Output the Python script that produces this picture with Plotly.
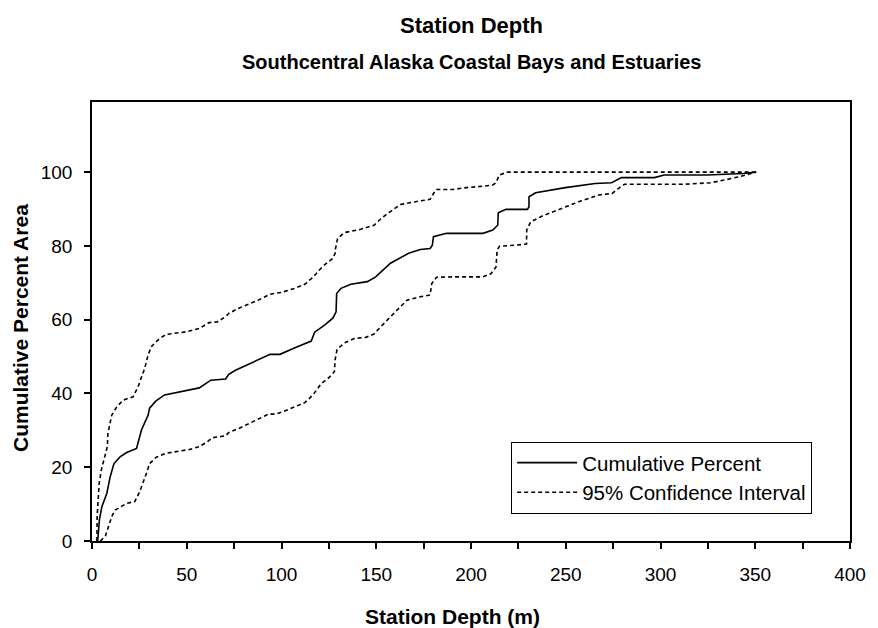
import plotly.graph_objects as go

# Cumulative distribution of station depth (m) vs. cumulative percent area
cum_depth = [3.0, 3.9, 5.2, 7.8, 9.6, 11.6, 14.8, 18.3, 23.5, 26.1, 29.6, 30.4, 33.6, 38.3,
             56.6, 59.2, 62.7, 70.5, 72.2, 75.7, 86.2, 94.0, 99.2, 103.6, 107.1, 115.7,
             117.5, 122.7, 127.1, 128.8, 129.1, 131.4, 136.6, 145.3, 149.7, 157.5, 167.1,
             173.2, 178.4, 179.6, 180.2, 187.1, 197.5, 206.3, 211.5, 214.1, 214.4, 218.4,
             229.8, 230.6, 230.6, 234.1, 249.8, 265.5, 274.2, 279.4, 296.8, 302.0, 324.6,
             343.8, 350.5]
cum_pct = [0.0, 5.7, 9.3, 12.9, 17.4, 21.0, 22.8, 24.0, 25.1, 30.1, 34.1, 36.0, 37.9, 39.6,
           41.5, 42.3, 43.6, 43.9, 45.2, 46.3, 48.8, 50.6, 50.6, 51.5, 52.4, 54.2,
           56.6, 58.5, 60.4, 62.1, 67.1, 68.5, 69.6, 70.3, 71.6, 75.3, 78.0,
           79.0, 79.3, 80.2, 82.5, 83.4, 83.4, 83.4, 84.3, 85.6, 89.0, 89.9,
           89.9, 90.6, 93.3, 94.4, 95.8, 96.9, 97.1, 98.5, 98.5, 99.2, 99.2,
           99.6, 100.0]

# Upper 95% confidence bound
upper_depth = [2.6, 2.7, 3.8, 4.9, 8.1, 8.4, 10.4, 13.1, 16.5, 21.7, 24.3, 27.8, 29.6, 31.3,
               35.7, 39.2, 49.6, 56.6, 61.8, 66.1, 70.5, 72.2, 77.4, 82.6, 87.8, 94.0, 100.0,
               107.1, 112.3, 116.6, 121.8, 127.1, 128.3, 128.4, 129.6, 133.2, 141.8, 148.8,
               153.2, 156.7, 162.7, 173.2, 178.4, 180.2, 181.8, 190.6, 197.5, 207.1, 211.5,
               213.2, 214.9, 219.3, 350.5]
upper_pct = [0.0, 6.6, 15.6, 19.2, 25.6, 29.2, 34.1, 36.4, 38.2, 39.1, 41.8, 46.8, 50.4, 52.7,
             54.9, 56.0, 56.7, 57.6, 59.2, 59.4, 60.8, 61.7, 63.1, 64.2, 65.3, 66.9, 67.4,
             68.5, 69.6, 71.5, 74.5, 76.6, 78.0, 79.0, 82.0, 83.6, 84.5, 85.6,
             87.7, 89.0, 91.2, 92.2, 92.6, 94.2, 95.3, 95.3, 95.8, 96.2, 96.5,
             97.1, 99.2, 100.0, 100.0]

# Lower 95% confidence bound
lower_depth = [4.3, 7.0, 8.7, 10.4, 12.2, 16.5, 18.3, 22.6, 25.2, 28.7, 30.4, 33.9, 39.2, 51.4,
               56.6, 60.9, 63.5, 70.5, 72.2, 77.4, 86.2, 93.2, 96.7, 100.0, 107.1, 112.3,
               116.6, 121.0, 125.3, 127.9, 128.3, 129.3, 133.2, 138.4, 144.5, 148.8, 153.2,
               158.4, 162.7, 166.2, 173.2, 178.4, 179.3, 181.8, 190.6, 206.3, 210.6, 213.2,
               213.8, 215.0, 223.8, 229.3, 229.4, 231.5, 237.6, 250.1, 257.1, 267.5, 274.5,
               279.4, 281.1, 312.4, 326.4, 335.0, 341.2, 350.5]
lower_pct = [0.0, 1.2, 3.9, 6.6, 8.4, 9.8, 10.2, 10.7, 13.4, 18.3, 21.0, 22.7, 23.8, 24.8,
             25.6, 26.9, 28.0, 28.5, 29.4, 30.5, 32.8, 34.4, 34.4, 34.9, 36.4, 37.5,
             39.6, 42.7, 44.4, 45.9, 49.1, 51.9, 53.7, 54.9, 55.2, 56.1, 58.5,
             61.2, 63.5, 65.3, 66.2, 66.7, 69.8, 71.5, 71.6, 71.6, 72.5, 74.3,
             78.9, 79.9, 80.2, 80.5, 84.3, 86.5, 88.1, 90.6, 92.0, 93.8, 94.2,
             96.2, 96.7, 96.7, 97.1, 98.0, 98.7, 100.0]

x_ticks = [0, 50, 100, 150, 200, 250, 300, 350, 400]
y_ticks = [0, 20, 40, 60, 80, 100]

FONT = "Liberation Sans, Arial, sans-serif"
DASH = "4px,3px"
PLOT_W = 878 - 92 - 21
PLOT_H = 628 - 102 - 87

fig = go.Figure()
fig.add_trace(go.Scatter(x=cum_depth, y=cum_pct, mode="lines", name="Cumulative Percent",
                         line=dict(color="black", width=1.6)))
fig.add_trace(go.Scatter(x=upper_depth, y=upper_pct, mode="lines", name="95% Confidence Interval",
                         line=dict(color="black", width=1.6, dash=DASH)))
fig.add_trace(go.Scatter(x=lower_depth, y=lower_pct, mode="lines", name="95% Confidence Interval",
                         showlegend=False, line=dict(color="black", width=1.6, dash=DASH)))

fig.update_layout(
    width=878, height=628,
    margin=dict(l=92, r=21, t=102, b=87),
    paper_bgcolor="white", plot_bgcolor="white",
    font=dict(family=FONT, color="black", size=19),
    showlegend=True,
    legend=dict(x=0.553, y=0.226, xanchor="left", yanchor="top",
                bgcolor="white", bordercolor="black", borderwidth=1,
                font=dict(size=20.5, family=FONT), itemwidth=60,
                tracegroupgap=2),
    annotations=[
        dict(text="<b>Station Depth</b>", xref="paper", yref="paper", x=0.5, y=1.0,
             yshift=102 - 25, xanchor="center", yanchor="middle", showarrow=False,
             font=dict(size=22, family=FONT)),
        dict(text="<b>Southcentral Alaska Coastal Bays and Estuaries</b>", xref="paper",
             yref="paper", x=0.5, y=1.0, yshift=102 - 62, xanchor="center",
             yanchor="middle", showarrow=False, font=dict(size=20, family=FONT)),
        dict(text="<b>Station Depth (m)</b>", xref="paper", yref="paper",
             x=(456 - 92) / PLOT_W, y=0, yshift=-(616 - 541), xanchor="center",
             yanchor="middle", showarrow=False, font=dict(size=21, family=FONT)),
        dict(text="<b>Cumulative Percent Area</b>", xref="paper", yref="paper",
             x=0, xshift=-(92 - 20), y=(541 - 328) / PLOT_H, xanchor="center",
             yanchor="middle", textangle=-90, showarrow=False,
             font=dict(size=21, family=FONT)),
    ],
)

fig.update_xaxes(range=[0, 400], tickvals=x_ticks, ticks="outside", ticklen=6, tickwidth=1.5,
                 tickcolor="black", showline=True, linecolor="black", linewidth=1.5,
                 mirror=True, showgrid=False, zeroline=False, ticklabelstandoff=9,
                 minor=dict(dtick=25, ticks="outside", ticklen=6, tickwidth=1.5,
                            tickcolor="black", showgrid=False))
fig.update_yaxes(range=[0, 119], tickvals=y_ticks, ticks="outside", ticklen=6, tickwidth=1.5,
                 tickcolor="black", showline=True, linecolor="black", linewidth=1.5,
                 mirror=True, showgrid=False, zeroline=False, ticklabelstandoff=8)

fig.write_html("out.html")
